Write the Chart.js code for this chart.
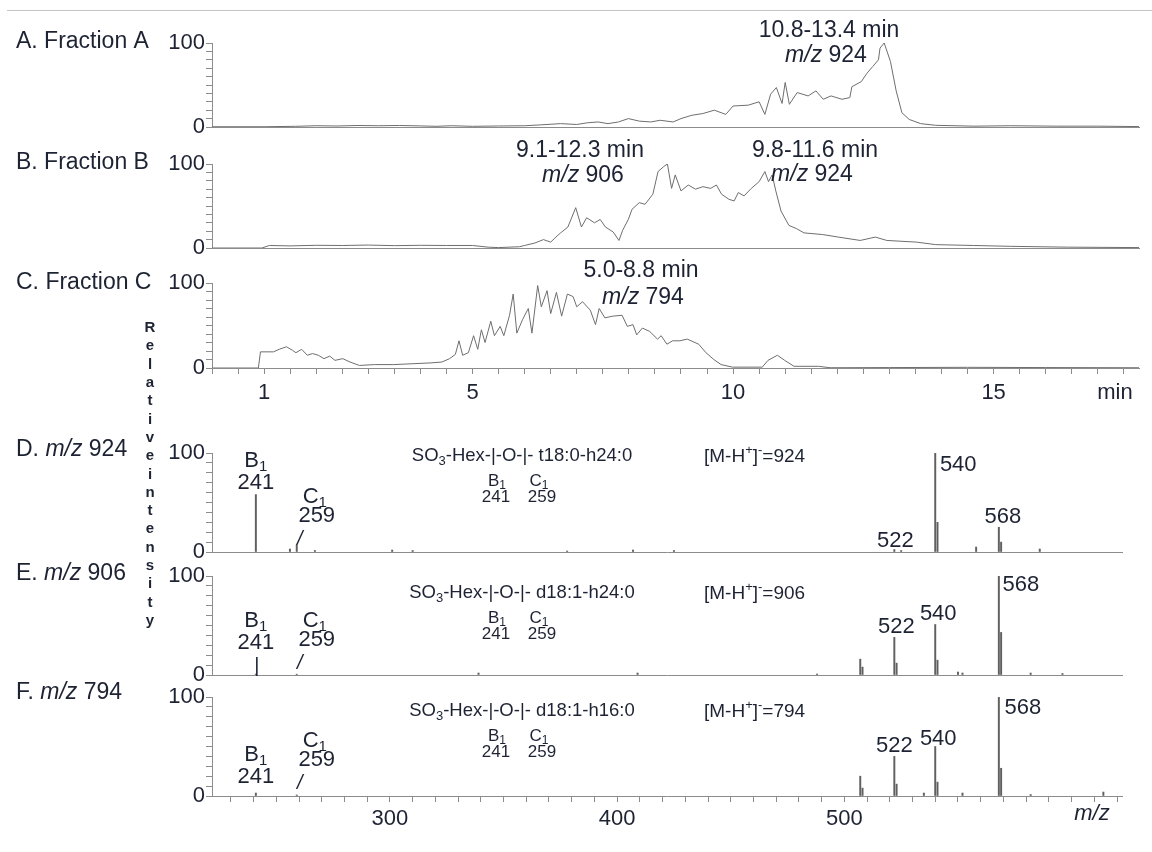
<!DOCTYPE html>
<html><head><meta charset="utf-8">
<script src="https://cdn.jsdelivr.net/npm/chart.js@4.4.1/dist/chart.umd.min.js"></script>
<style>
html,body{margin:0;padding:0;background:#fff;}
#wrap{position:relative;width:1152px;height:852px;overflow:hidden;background:#fff;}
#wrap canvas{position:absolute;left:0;top:0;}
#rule{position:absolute;left:7px;right:0;top:10px;height:1px;background:#c4c4c4;}
</style></head><body>
<div id="wrap"><div id="rule"></div>
<canvas id="cA" width="1152" height="852"></canvas>
<canvas id="cB" width="1152" height="852"></canvas>
<canvas id="cC" width="1152" height="852"></canvas>
<canvas id="cD" width="1152" height="852"></canvas>
<canvas id="cE" width="1152" height="852"></canvas>
<canvas id="cF" width="1152" height="852"></canvas>
</div>
<script>
// ---- chromatograms (retention time, min / relative intensity, %) ----
const timeA = [0, 1.0, 1.6, 2.0, 2.4, 2.8, 3.2, 3.6, 4.0, 4.3, 4.6, 5.0, 5.5, 6.0, 6.3, 6.69, 7.0, 7.2, 7.41, 7.6, 7.8, 7.99, 8.2, 8.42, 8.6, 8.85, 9.0, 9.21, 9.42, 9.64, 9.86, 10.0, 10.29, 10.5, 10.61, 10.72, 10.83, 10.94, 11.0, 11.08, 11.23, 11.44, 11.59, 11.73, 11.88, 12.09, 12.24, 12.28, 12.46, 12.57, 12.68, 12.79, 12.82, 12.9, 13.02, 13.13, 13.24, 13.38, 13.6, 13.89, 14.62, 15.32, 16.2, 17.0, 17.79];
const intA = [0.3, 0.3, 0.8, 1.5, 1.2, 1.8, 1.5, 1.8, 1.3, 0.8, 1.5, 0.8, 1.2, 1.5, 2.5, 4, 3, 5, 6, 4, 6, 10, 7, 6, 8, 6, 10, 14, 16, 20, 15, 25, 26, 30, 15, 39, 47, 28, 53, 27, 41, 37, 43, 33, 37, 33, 35, 48, 54, 64, 72, 80, 94, 100, 78, 43, 17, 9, 4, 2, 1, 1.5, 1, 1, 0.5];

const timeB = [0, 0.96, 1.1, 1.5, 2.0, 2.5, 3.0, 3.5, 4.0, 4.5, 5.0, 5.3, 5.5, 5.9, 6.0, 6.2, 6.36, 6.5, 6.6, 6.69, 6.83, 6.98, 7.09, 7.19, 7.34, 7.45, 7.55, 7.7, 7.81, 7.88, 7.99, 8.06, 8.2, 8.31, 8.46, 8.56, 8.67, 8.74, 8.82, 8.89, 9.0, 9.14, 9.28, 9.42, 9.57, 9.68, 9.78, 9.92, 10.02, 10.1, 10.21, 10.35, 10.5, 10.61, 10.68, 10.75, 10.82, 10.92, 11.07, 11.22, 11.36, 11.72, 12.02, 12.44, 12.73, 12.95, 13.52, 13.89, 14.61, 15.32, 16.42, 17.79];
const intB = [0, 0, 3, 2.5, 3.2, 3, 3.5, 2.8, 3.2, 3, 3, 1, 0.5, 1.5, 3, 6, 10, 7, 13, 18, 25, 48, 25, 36, 30, 34, 25, 19, 9, 21, 34, 46, 54, 52, 64, 91, 97, 100, 71, 87, 68, 75, 70, 73, 71, 75, 64, 58, 56, 66, 62, 71, 79, 91, 79, 87, 68, 44, 27, 23, 18, 16, 13, 9, 13, 9, 7, 4, 3, 2, 1, 0.5];

const timeC = [0, 0.89, 0.93, 1.18, 1.29, 1.43, 1.54, 1.61, 1.72, 1.83, 1.93, 2.04, 2.15, 2.26, 2.36, 2.51, 2.65, 2.83, 3.12, 3.48, 3.84, 4.2, 4.41, 4.56, 4.67, 4.74, 4.81, 4.92, 5.02, 5.1, 5.17, 5.24, 5.35, 5.42, 5.53, 5.6, 5.71, 5.78, 5.85, 5.96, 6.07, 6.14, 6.25, 6.32, 6.43, 6.5, 6.61, 6.71, 6.82, 6.93, 7.0, 7.11, 7.26, 7.36, 7.43, 7.54, 7.69, 7.87, 7.97, 8.08, 8.15, 8.26, 8.4, 8.55, 8.62, 8.73, 8.84, 8.98, 9.12, 9.23, 9.34, 9.48, 9.63, 9.77, 9.99, 10.56, 10.67, 10.85, 10.99, 11.17, 11.64, 11.86, 13.0, 14.5, 16.0, 17.79];
const intC = [0, 0, 19, 19, 22, 25, 21, 18, 22, 15, 17, 15, 11, 14, 9, 11, 7, 3, 4, 4, 5, 6, 7, 11, 16, 32, 15, 18, 38, 22, 45, 30, 55, 38, 49, 38, 62, 87, 41, 57, 70, 41, 97, 72, 91, 64, 89, 61, 87, 84, 72, 78, 68, 51, 70, 59, 61, 62, 49, 51, 39, 47, 43, 34, 38, 28, 32, 32, 34, 31, 28, 18, 10, 4, 1, 1, 9, 15, 9, 2, 2, 0.3, 0.5, 0.8, 0.5, 0.3];

// ---- MS/MS spectra (m/z / relative intensity, %) ----
const mzD = [241, 256, 259, 267, 301, 310, 378, 407, 425, 522, 525, 540, 541, 558, 568, 569, 586];
const intD = [58, 3, 7, 1.5, 2, 1.5, 1, 2, 1.5, 2.5, 1.5, 100, 30, 5, 25, 10, 3];
const mzE = [241, 259, 339, 409, 488, 507, 508, 522, 523, 540, 541, 550, 552, 568, 569, 582, 596];
const intE = [1, 0.8, 2, 2, 1, 16, 8, 38, 12, 51, 15, 3, 2, 100, 43, 2, 1.5];
const mzF = [241, 259, 507, 508, 522, 523, 535, 540, 541, 552, 568, 569, 582, 614];
const intF = [3, 1, 20, 8, 40, 12, 3, 50, 14, 3, 100, 28, 1.5, 4];

// ---- axis labels ----
const timeTickLabels = [1, 5, 10, 15];
const mzTickLabels = [300, 400, 500];
const intensityTickLabels = [0, 100];

const FAMILY = '"Liberation Sans", Arial, Helvetica, sans-serif';
const INK = '#1d2333';
const AXIS = '#8c8c8c';
const TRACE = '#6e6e6e';
const PEAK = '#606060';

const TIME_RANGE = [0, 17.79];
const MZ_RANGE = [221.7, 622.2];
const timeTicks = [];
for (let v = 0; v <= 17.5 + 1e-9; v += 0.5) timeTicks.push(Math.round(v * 10) / 10);
const mzTicks = [];
for (let v = 230; v <= 620; v += 10) mzTicks.push(v);
const yTicks = [0, 10, 20, 30, 40, 50, 60, 70, 80, 90, 100];

const pairs = (xs, ys) => xs.map((x, i) => ({x: x, y: ys[i]}));

function rich(ctx, x, y, runs, size, align) {
  const fontFor = st => {
    const s = (st === 'sub' || st === 'sup') ? Math.round(size * 0.7) : size;
    return (st === 'i' ? 'italic ' : '') + s + 'px ' + FAMILY;
  };
  let w = 0;
  runs.forEach(r => { ctx.font = fontFor(r[1] || ''); w += ctx.measureText(r[0]).width; });
  let cx = align === 'center' ? x - w / 2 : (align === 'right' ? x - w : x);
  ctx.save();
  ctx.fillStyle = INK;
  ctx.textAlign = 'left';
  ctx.textBaseline = 'middle';
  runs.forEach(r => {
    const st = r[1] || '';
    ctx.font = fontFor(st);
    const dy = st === 'sub' ? size * 0.28 : (st === 'sup' ? -size * 0.32 : 0);
    ctx.fillText(r[0], cx, y + dy);
    cx += ctx.measureText(r[0]).width;
  });
  ctx.restore();
}

function panel(id, o) {
  const xAxisH = o.showX ? 40 : 0;
  const isSpec = o.kind === 'spec';
  const dataset = isSpec ? {
    type: 'bar', data: o.data, backgroundColor: PEAK, borderWidth: 0,
    barThickness: 1.3, grouped: false
  } : {
    type: 'line', data: o.data, borderColor: TRACE, borderWidth: 1,
    pointRadius: 0, tension: 0, fill: false
  };
  return new Chart(document.getElementById(id), {
    type: isSpec ? 'bar' : 'line',
    data: {datasets: [dataset]},
    options: {
      responsive: false, animation: false, events: [],
      layout: {padding: {left: 0, right: 1152 - o.right, top: o.top, bottom: 852 - o.bottom - xAxisH}},
      plugins: {legend: {display: false}, tooltip: {enabled: false}},
      scales: {
        x: {
          type: 'linear', min: o.range[0], max: o.range[1], offset: false,
          afterFit: s => { s.height = xAxisH; },
          afterBuildTicks: s => { s.ticks = o.ticks.map(v => ({value: v})); },
          border: {display: true, color: AXIS, width: 1},
          grid: {display: o.showX, drawOnChartArea: false, drawTicks: true, tickLength: 6, color: AXIS, offset: false},
          ticks: {
            display: o.showX, autoSkip: false, maxRotation: 0, padding: o.xPad || 4,
            color: INK, font: {family: FAMILY, size: 22},
            callback: v => o.labels.includes(v) ? String(v) : ''
          }
        },
        y: {
          min: 0, max: 100,
          afterFit: s => { s.width = 212; },
          afterBuildTicks: s => { s.ticks = yTicks.map(v => ({value: v})); },
          border: {display: true, color: AXIS, width: 1},
          grid: {drawOnChartArea: false, drawTicks: true, tickLength: 6, color: AXIS},
          ticks: {
            autoSkip: false, padding: 1, color: INK, font: {family: FAMILY, size: 22},
            callback: v => intensityTickLabels.includes(v) ? String(v) : ''
          }
        }
      }
    },
    plugins: [{id: 'notes' + id, afterDraw: c => o.draw(c, c.ctx, c.scales.x, c.chartArea.top)}]
  });
}

function title(ctx, y, runs) { rich(ctx, 16, y, runs, 23, 'left'); }

// Fraction A
panel('cA', {
  kind: 'chrom', top: 43, bottom: 127, right: 1139, range: TIME_RANGE, ticks: timeTicks,
  labels: [], showX: false, data: pairs(timeA, intA),
  draw: (c, ctx, x, top) => {
    title(ctx, 42, [['A. Fraction A']]);
    rich(ctx, 829, 31, [['10.8-13.4 min']], 23, 'center');
    rich(ctx, 826, 56, [['m/z', 'i'], [' 924']], 23, 'center');
  }
});

// Fraction B
panel('cB', {
  kind: 'chrom', top: 164, bottom: 248, right: 1139, range: TIME_RANGE, ticks: timeTicks,
  labels: [], showX: false, data: pairs(timeB, intB),
  draw: (c, ctx, x, top) => {
    title(ctx, 163, [['B. Fraction B']]);
    rich(ctx, 580, 151, [['9.1-12.3 min']], 23, 'center');
    rich(ctx, 583, 176, [['m/z', 'i'], [' 906']], 23, 'center');
    rich(ctx, 815, 151, [['9.8-11.6 min']], 23, 'center');
    rich(ctx, 812, 175, [['m/z', 'i'], [' 924']], 23, 'center');
  }
});

// Fraction C with the time axis
panel('cC', {
  kind: 'chrom', top: 283, bottom: 368, right: 1139, range: TIME_RANGE, ticks: timeTicks,
  labels: timeTickLabels, showX: true, xPad: 6, data: pairs(timeC, intC),
  draw: (c, ctx, x, top) => {
    title(ctx, 283, [['C. Fraction C']]);
    rich(ctx, 641, 271, [['5.0-8.8 min']], 23, 'center');
    rich(ctx, 643, 298, [['m/z', 'i'], [' 794']], 23, 'center');
    rich(ctx, 1115, 393, [['min']], 22, 'center');
  }
});

function specNotes(ctx, x, top, o) {
  const p241 = x.getPixelForValue(241), p259 = x.getPixelForValue(259);
  rich(ctx, 522, top + o.hdr, [['SO'], ['3', 'sub'], ['-Hex-|-O-|- ' + o.lipid]], 18.5, 'center');
  rich(ctx, 497, top + o.hdr + 25, [['B'], ['1', 'sub']], 17, 'center');
  rich(ctx, 539, top + o.hdr + 25, [['C'], ['1', 'sub']], 17, 'center');
  rich(ctx, 496, top + o.hdr + 41, [['241']], 17, 'center');
  rich(ctx, 542, top + o.hdr + 41, [['259']], 17, 'center');
  rich(ctx, 704, top + o.hdr + 1, [['[M-H'], ['+', 'sup'], [']'], ['-', 'sup'], ['=' + o.parent]], 19, 'left');
  rich(ctx, p241, top + o.b1, [['B'], ['1', 'sub']], 22, 'center');
  rich(ctx, p241, top + o.b1 + 22, [['241']], 22, 'center');
  if (o.bar) rich(ctx, p241 + 1, top + o.b1 + 45, [['|']], 20, 'center');
  rich(ctx, p259 + 18, top + o.c1, [['C'], ['1', 'sub']], 22, 'center');
  rich(ctx, p259 + 20, top + o.c1 + 19, [['259']], 22, 'center');
  rich(ctx, p259 + 3, top + o.c1 + 42, [['/', 'i']], 20, 'center');
  o.peaks.forEach(pk => {
    rich(ctx, x.getPixelForValue(pk[0]) + pk[1], top + pk[2], [[String(pk[0])]], 22, 'center');
  });
}

panel('cD', {
  kind: 'spec', top: 453, bottom: 552, right: 1122, range: MZ_RANGE, ticks: mzTicks,
  labels: [], showX: false, data: pairs(mzD, intD),
  draw: (c, ctx, x, top) => {
    title(ctx, 450, [['D. '], ['m/z', 'i'], [' 924']]);
    specNotes(ctx, x, top, {hdr: 3, lipid: 't18:0-h24:0', parent: '924', b1: 8, c1: 44, bar: false,
      peaks: [[522, 1, 88], [540, 23, 12], [568, 4, 64]]});
  }
});

panel('cE', {
  kind: 'spec', top: 576, bottom: 675, right: 1122, range: MZ_RANGE, ticks: mzTicks,
  labels: [], showX: false, data: pairs(mzE, intE),
  draw: (c, ctx, x, top) => {
    title(ctx, 574, [['E. '], ['m/z', 'i'], [' 906']]);
    specNotes(ctx, x, top, {hdr: 17, lipid: 'd18:1-h24:0', parent: '906', b1: 45, c1: 45, bar: true,
      peaks: [[522, 2, 51], [540, 3, 38], [568, 22, 9]]});
  }
});

panel('cF', {
  kind: 'spec', top: 697, bottom: 796, right: 1122, range: MZ_RANGE, ticks: mzTicks,
  labels: mzTickLabels, showX: true, xPad: 4, data: pairs(mzF, intF),
  draw: (c, ctx, x, top) => {
    title(ctx, 693, [['F. '], ['m/z', 'i'], [' 794']]);
    specNotes(ctx, x, top, {hdr: 14, lipid: 'd18:1-h16:0', parent: '794', b1: 58, c1: 44, bar: false,
      peaks: [[522, 0, 49], [540, 3, 42], [568, 24, 11]]});
    rich(ctx, 1092, 814, [['m/z', 'i']], 22, 'center');
    // shared y-axis caption, one letter per line
    const caption = 'Relativeintensity';
    ctx.save();
    ctx.fillStyle = INK;
    ctx.font = 'bold 15px ' + FAMILY;
    ctx.textAlign = 'center';
    ctx.textBaseline = 'middle';
    for (let i = 0; i < caption.length; i++) ctx.fillText(caption[i], 150, 328 + i * 18.3);
    ctx.restore();
  }
});
</script>
</body></html>
